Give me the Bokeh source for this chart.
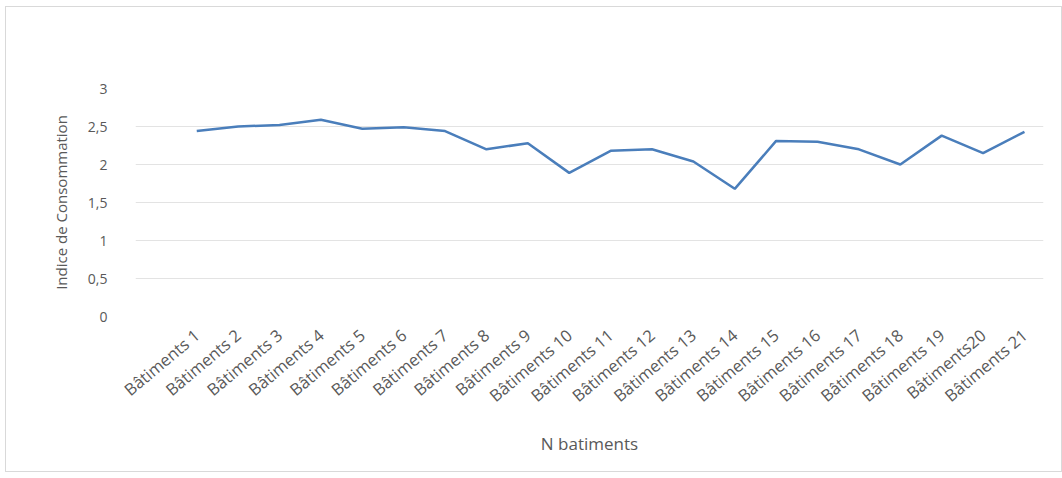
import math
from bokeh.plotting import figure
from bokeh.models import FixedTicker, Range1d
from bokeh.embed import file_html
from bokeh.resources import INLINE

batiments = ["Bâtiments 1", "Bâtiments 2", "Bâtiments 3", "Bâtiments 4", "Bâtiments 5",
             "Bâtiments 6", "Bâtiments 7", "Bâtiments 8", "Bâtiments 9", "Bâtiments 10",
             "Bâtiments 11", "Bâtiments 12", "Bâtiments 13", "Bâtiments 14", "Bâtiments 15",
             "Bâtiments 16", "Bâtiments 17", "Bâtiments 18", "Bâtiments 19", "Bâtiments20",
             "Bâtiments 21"]
indice = [2.44, 2.50, 2.52, 2.59, 2.47, 2.49, 2.44, 2.20, 2.28, 1.89,
          2.18, 2.20, 2.04, 1.68, 2.31, 2.30, 2.20, 2.00, 2.38, 2.15, 2.43]
y_ticks = [0, 0.5, 1, 1.5, 2, 2.5, 3]
y_tick_labels = ["0", "0,5", "1", "1,5", "2", "2,5", "3"]

x = list(range(1, len(batiments) + 1))

p = figure(width=1057, height=466, output_backend="svg", toolbar_location=None,
           x_range=Range1d(-0.48, 21.46), y_range=Range1d(0, 3),
           min_border_left=129, min_border_right=20, min_border_top=81, min_border_bottom=157)
p.styles = {"border": "1px solid #d9d9d9", "margin-left": "5px", "margin-top": "6px"}
p.outline_line_color = None
p.background_fill_color = "white"
p.border_fill_color = "white"

p.line(x, indice, line_color="#4a7ebb", line_width=2.5)

font = "Open Sans"
grey = "#595959"

p.xaxis.ticker = FixedTicker(ticks=x)
p.xaxis.major_label_overrides = {i: b for i, b in zip(x, batiments)}
p.xaxis.major_label_orientation = 0.70
p.xaxis.major_label_text_font = font
p.xaxis.major_label_text_font_size = "16.5px"
p.xaxis.major_label_text_color = grey
p.xaxis.major_label_standoff = 10
p.xaxis.axis_label = "N batiments"
p.xaxis.axis_label_text_font = font
p.xaxis.axis_label_text_font_size = "17px"
p.xaxis.axis_label_text_font_style = "normal"
p.xaxis.axis_label_text_color = grey
p.xaxis.axis_label_standoff = 14
p.xaxis.axis_line_color = None
p.xaxis.major_tick_line_color = None
p.xaxis.minor_tick_line_color = None

p.yaxis.ticker = FixedTicker(ticks=y_ticks)
p.yaxis.major_label_overrides = {t: l for t, l in zip(y_ticks, y_tick_labels)}
p.yaxis.major_label_text_font = font
p.yaxis.major_label_text_font_size = "14px"
p.yaxis.major_label_text_color = grey
p.yaxis.major_label_standoff = 22
p.yaxis.axis_label = "Indice de Consommation"
p.yaxis.axis_label_text_font = font
p.yaxis.axis_label_text_font_size = "15px"
p.yaxis.axis_label_text_font_style = "normal"
p.yaxis.axis_label_text_color = grey
p.yaxis.axis_label_standoff = 14
p.yaxis.axis_line_color = None
p.yaxis.major_tick_line_color = None
p.yaxis.minor_tick_line_color = None

p.xgrid.grid_line_color = None
p.ygrid.ticker = FixedTicker(ticks=y_ticks)
p.ygrid.grid_line_color = "#e3e3e3"
p.ygrid.grid_line_width = 1

open("out.html", "w").write(file_html(p, INLINE))
